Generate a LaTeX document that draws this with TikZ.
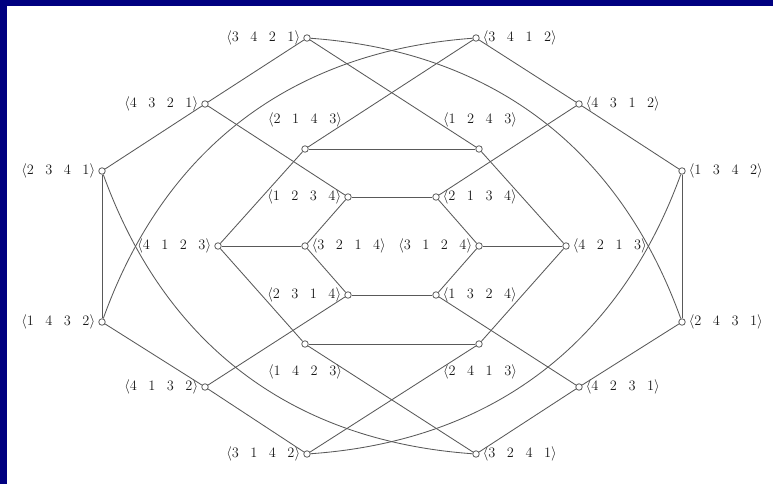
\documentclass[tikz,border=0pt]{standalone}
\definecolor{navyband}{RGB}{0,0,128}
\newlength{\pgap}\setlength{\pgap}{11.5pt}
\newcommand{\perm}[4]{$\langle#1\hspace{\pgap}#2\hspace{\pgap}#3\hspace{\pgap}#4\rangle$}
\begin{document}
\begin{tikzpicture}[x=1pt,y=-1pt,
  vtx/.style={circle,draw=black!65,fill=white,line width=0.8pt,inner sep=0pt,minimum size=6.5pt},
  lbl/.style={inner sep=3pt,font=\fontsize{14}{16}\selectfont,text=black!90},
  edge/.style={draw=black!65,line width=0.85pt}]
\useasboundingbox (0,0) rectangle (773,484);
\fill[navyband] (0,0) rectangle (773,6);
\fill[navyband] (0,0) rectangle (7,484);
% outer ring
\node[vtx] (A) at (307,38) {};
\node[vtx] (B) at (476,38) {};
\node[vtx] (C) at (205,104) {};
\node[vtx] (D) at (579,104) {};
\node[vtx] (E) at (102,171) {};
\node[vtx] (F) at (682,171) {};
\node[vtx] (G) at (102,322) {};
\node[vtx] (H) at (682,322) {};
\node[vtx] (I) at (205,387) {};
\node[vtx] (J) at (579,387) {};
\node[vtx] (K) at (307,454) {};
\node[vtx] (L) at (476,454) {};
% middle ring
\node[vtx] (M1) at (305,149) {};
\node[vtx] (M2) at (479,149) {};
\node[vtx] (M3) at (218,246) {};
\node[vtx] (M4) at (566,246) {};
\node[vtx] (M5) at (305,344) {};
\node[vtx] (M6) at (479,344) {};
% inner ring
\node[vtx] (N1) at (348,197) {};
\node[vtx] (N2) at (436,197) {};
\node[vtx] (N3) at (305,246) {};
\node[vtx] (N4) at (479,246) {};
\node[vtx] (N5) at (348,295) {};
\node[vtx] (N6) at (436,295) {};
% labels
\node[lbl,anchor=east] (lA) at (A.west) {\perm3421};
\node[lbl,anchor=west] (lB) at (B.east) {\perm3412};
\node[lbl,anchor=east] (lC) at (C.west) {\perm4321};
\node[lbl,anchor=west] (lD) at (D.east) {\perm4312};
\node[lbl,anchor=east] (lE) at (E.west) {\perm2341};
\node[lbl,anchor=west] (lF) at (F.east) {\perm1342};
\node[lbl,anchor=east] (lG) at (G.west) {\perm1432};
\node[lbl,anchor=west] (lH) at (H.east) {\perm2431};
\node[lbl,anchor=east] (lI) at (I.west) {\perm4132};
\node[lbl,anchor=west] (lJ) at (J.east) {\perm4231};
\node[lbl,anchor=east] (lK) at (K.west) {\perm3142};
\node[lbl,anchor=west] (lL) at (L.east) {\perm3241};
\node[lbl] (lM1) at (305,120) {\perm2143};
\node[lbl] (lM2) at (480,120) {\perm1243};
\node[lbl,anchor=east] (lM3) at (M3.west) {\perm4123};
\node[lbl,anchor=west] (lM4) at (M4.east) {\perm4213};
\node[lbl] (lM5) at (305,372) {\perm1423};
\node[lbl] (lM6) at (480,372) {\perm2413};
\node[lbl,anchor=east] (lN1) at (N1.west) {\perm1234};
\node[lbl,anchor=west] (lN2) at (N2.east) {\perm2134};
\node[lbl,anchor=west] (lN3) at (N3.east) {\perm3214};
\node[lbl,anchor=east] (lN4) at (N4.west) {\perm3124};
\node[lbl,anchor=east] (lN5) at (N5.west) {\perm2314};
\node[lbl,anchor=west] (lN6) at (N6.east) {\perm1324};
% edges: outer ring
\draw[edge] (A) -- (C);
\draw[edge] (C) -- (E);
\draw[edge] (E) -- (G);
\draw[edge] (G) -- (I);
\draw[edge] (I) -- (K);
\draw[edge] (B) -- (D);
\draw[edge] (D) -- (F);
\draw[edge] (F) -- (H);
\draw[edge] (H) -- (J);
\draw[edge] (J) -- (L);
% outer to middle / inner
\draw[edge] (A) -- (M2);
\draw[edge] (B) -- (M1);
\draw[edge] (K) -- (M6);
\draw[edge] (L) -- (M5);
\draw[edge] (C) -- (N1);
\draw[edge] (D) -- (N2);
\draw[edge] (I) -- (N5);
\draw[edge] (J) -- (N6);
% middle hexagon
\draw[edge] (M1) -- (M2);
\draw[edge] (M2) -- (M4);
\draw[edge] (M4) -- (M6);
\draw[edge] (M6) -- (M5);
\draw[edge] (M5) -- (M3);
\draw[edge] (M3) -- (M1);
\draw[edge] (M3) -- (N3);
\draw[edge] (M4) -- (N4);
% inner hexagon
\draw[edge] (N1) -- (N2);
\draw[edge] (N2) -- (N4);
\draw[edge] (N4) -- (N6);
\draw[edge] (N6) -- (N5);
\draw[edge] (N5) -- (N3);
\draw[edge] (N3) -- (N1);
% long curves
\draw[edge] (A) to[bend left=33] (H);
\draw[edge] (G) to[bend left=33] (B);
\draw[edge] (E) to[bend right=33] (L);
\draw[edge] (K) to[bend right=33] (F);
\end{tikzpicture}
\end{document}
